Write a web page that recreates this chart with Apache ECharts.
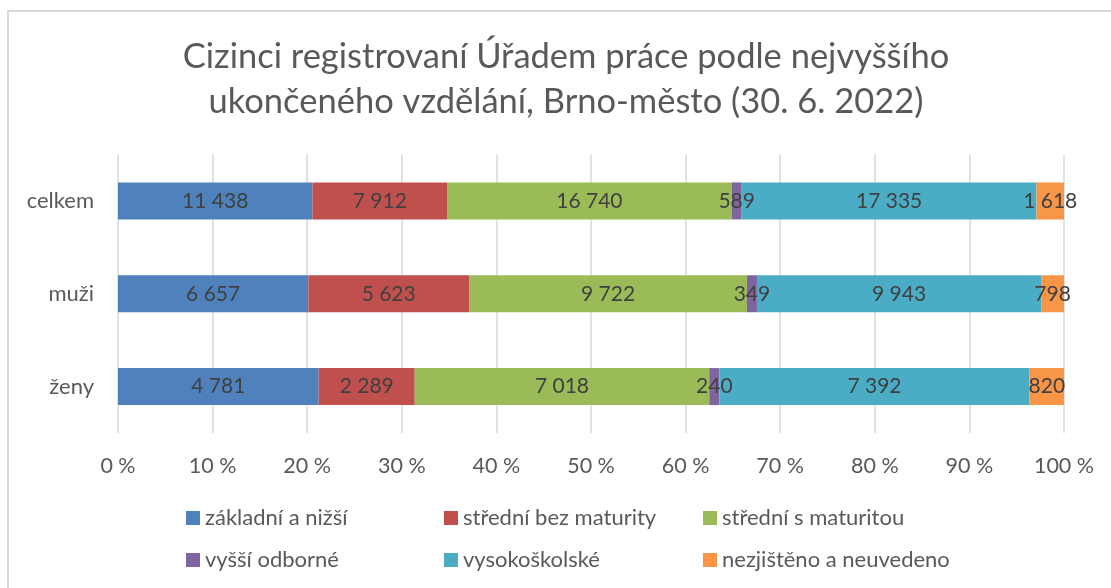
<!DOCTYPE html>
<html>
<head>
<meta charset="utf-8">
<script src="https://cdn.jsdelivr.net/npm/echarts@6/dist/echarts.min.js"></script>
<style>html,body{margin:0;padding:0;background:#fff}#c{width:1111px;height:588px}</style>
</head>
<body>
<div id="c"></div>
<script>
const categories = ['celkem', 'muži', 'ženy'];
const seriesNames = ['základní a nižší', 'střední bez maturity', 'střední s maturitou', 'vyšší odborné', 'vysokoškolské', 'nezjištěno a neuvedeno'];
const zakladni = [11438, 6657, 4781];
const stredniBez = [7912, 5623, 2289];
const stredniS = [16740, 9722, 7018];
const vyssi = [589, 349, 240];
const vysoko = [17335, 9943, 7392];
const nezjisteno = [1618, 798, 820];
const colors = ['#4F81BD', '#C0504D', '#9BBB59', '#8064A2', '#4BACC6', '#F79646'];

const allSeries = [zakladni, stredniBez, stredniS, vyssi, vysoko, nezjisteno];
const totals = categories.map((c, i) => allSeries.reduce((s, a) => s + a[i], 0));
const fmt = v => String(v).replace(/\B(?=(\d{3})+(?!\d))/g, ' ');
const FONT = 'Lato, Carlito, "Open Sans", sans-serif';

const legendPos = [[186, 507], [444, 507], [703, 507], [186, 549], [444, 549], [703, 549]];

const option = {
  animation: false,
  textStyle: { fontFamily: FONT },
  title: {
    text: 'Cizinci registrovaní Úřadem práce podle nejvyššího\nukončeného vzdělání, Brno-město (30. 6. 2022)',
    left: 566,
    textAlign: 'center',
    top: 34,
    padding: 0,
    textStyle: { fontFamily: FONT, fontSize: 34.5, fontWeight: 'normal', color: '#595959', lineHeight: 45 }
  },
  graphic: [{
    type: 'rect', silent: true,
    shape: { x: 8, y: 11, width: 1200, height: 700 },
    style: { fill: 'none', stroke: '#d9d9d9', lineWidth: 2 }
  }],
  legend: seriesNames.map((n, i) => ({
    data: [n],
    left: legendPos[i][0], top: legendPos[i][1],
    padding: 0,
    itemWidth: 14, itemHeight: 14, itemGap: 0,
    icon: 'rect',
    selectedMode: false,
    textStyle: { fontFamily: FONT, fontSize: 22, color: '#595959' }
  })),
  grid: { left: 118, right: 47, top: 154.5, bottom: 155, containLabel: false },
  xAxis: {
    type: 'value', min: 0, max: 100, interval: 10,
    axisLine: { show: false }, axisTick: { show: false },
    splitLine: { lineStyle: { color: '#d9d9d9', width: 1.5 } },
    axisLabel: { formatter: '{value} %', fontFamily: FONT, fontSize: 21.5, color: '#595959', margin: 22 }
  },
  yAxis: {
    type: 'category', data: categories, inverse: true,
    axisLine: { show: false }, axisTick: { show: false },
    axisLabel: { fontFamily: FONT, fontSize: 22, color: '#595959', margin: 24 }
  },
  series: allSeries.map((arr, si) => ({
    name: seriesNames[si],
    type: 'bar',
    stack: 'total',
    barWidth: 37,
    itemStyle: { color: colors[si] },
    label: {
      show: true, position: 'inside',
      fontFamily: FONT, fontSize: 21, color: '#404040',
      formatter: p => fmt(p.data.raw)
    },
    data: arr.map((v, i) => ({ value: v / totals[i] * 100, raw: v }))
  }))
};

const chart = echarts.init(document.getElementById('c'), null, { renderer: 'canvas' });
chart.setOption(option);
</script>
</body>
</html>
